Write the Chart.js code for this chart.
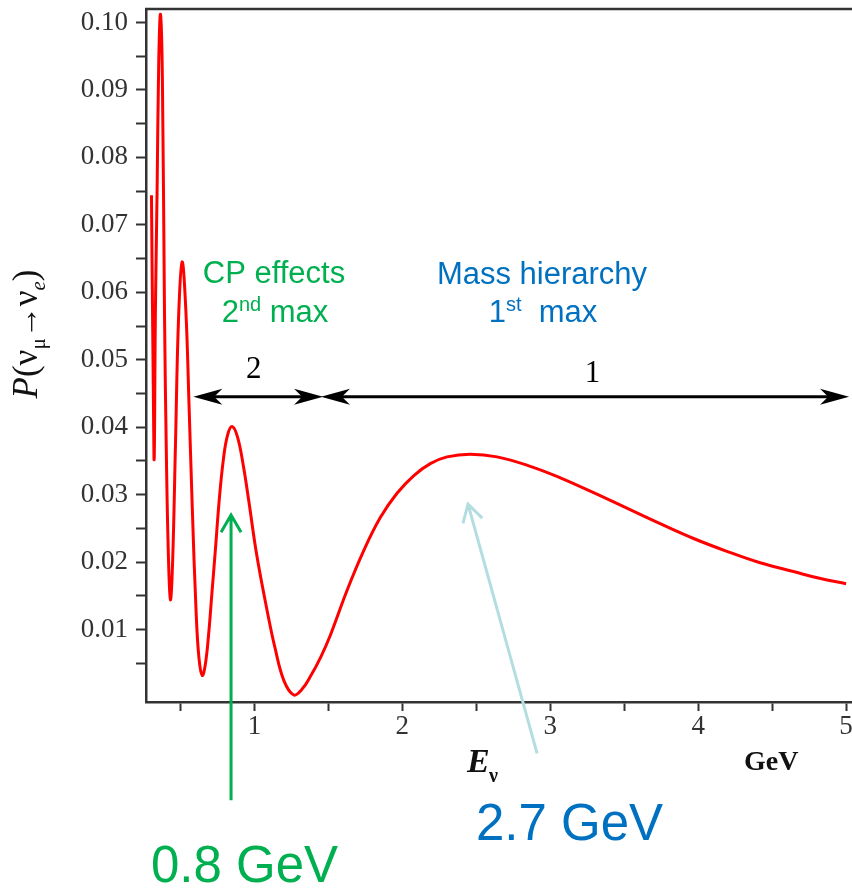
<!DOCTYPE html>
<html>
<head>
<meta charset="utf-8">
<script src="https://cdn.jsdelivr.net/npm/chart.js@4.4.0/dist/chart.umd.min.js"></script>
<style>
  html, body { margin: 0; padding: 0; background: #fff; }
  #wrap { width: 852px; height: 888px; }
</style>
</head>
<body>
<div id="wrap"><canvas id="osc" width="852" height="888"></canvas></div>
<script>
// neutrino energy (GeV) and appearance probability
const energy = [0.304, 0.321, 0.331, 0.342, 0.353, 0.365, 0.378, 0.392, 0.405, 0.418,
  0.432, 0.447, 0.466, 0.487, 0.511, 0.536, 0.558, 0.580, 0.606, 0.625,
  0.647, 0.668, 0.690, 0.712, 0.736, 0.762, 0.790, 0.818, 0.849, 0.885,
  0.925, 0.961, 1.016, 1.086, 1.140, 1.200, 1.266, 1.320, 1.380, 1.450, 1.514,
  1.626, 1.739, 1.851, 1.964, 2.076, 2.189, 2.302, 2.459, 2.640, 2.865,
  3.068, 3.293, 3.518, 3.743, 3.969, 4.194, 4.419, 4.644, 4.820, 5.000];
const prob = [0.0744, 0.0354, 0.0580, 0.0750, 0.0940, 0.1012, 0.0913, 0.0570, 0.0355, 0.0213,
  0.0144, 0.0201, 0.0372, 0.0561, 0.0645, 0.0575, 0.0433, 0.0280, 0.0125, 0.0058,
  0.0032, 0.0048, 0.0092, 0.0152, 0.0218, 0.0292, 0.0352, 0.0388, 0.0401, 0.0386,
  0.0343, 0.0292, 0.0210, 0.0128, 0.0072, 0.0024, 0.0003, 0.0011, 0.0031, 0.0060, 0.0092,
  0.0158, 0.0217, 0.0266, 0.0302, 0.0328, 0.0346, 0.0356, 0.0360, 0.0356, 0.0342,
  0.0325, 0.0303, 0.0280, 0.0257, 0.0235, 0.0216, 0.0199, 0.0186, 0.0176, 0.0168];

const xMin = 0.267, xMax = 5.04;
const yMin = -0.00074, yMax = 0.102;

const GREEN = '#00B050';
const BLUE = '#0070C0';
const AQUA = '#B4DDE2';
const AXIS = '#333';

function stealthHead(ctx, x, y, dir) {
  // dir = -1 points left, +1 points right
  const L = 29, h = 8;
  ctx.beginPath();
  ctx.moveTo(x, y);
  ctx.lineTo(x - dir * L, y - h);
  ctx.lineTo(x - dir * L * 0.72, y);
  ctx.lineTo(x - dir * L, y + h);
  ctx.closePath();
  ctx.fill();
}

function openArrow(ctx, x0, y0, x1, y1, color) {
  const a = Math.atan2(y1 - y0, x1 - x0), w = 20, sp = Math.PI / 6;
  ctx.strokeStyle = color;
  ctx.lineWidth = 3;
  ctx.beginPath();
  ctx.moveTo(x0, y0);
  ctx.lineTo(x1, y1);
  ctx.moveTo(x1 - w * Math.cos(a - sp), y1 - w * Math.sin(a - sp));
  ctx.lineTo(x1, y1);
  ctx.lineTo(x1 - w * Math.cos(a + sp), y1 - w * Math.sin(a + sp));
  ctx.stroke();
}

// text made of pieces (sub/superscripts), centred on cx
function supText(ctx, parts, cx, y, color) {
  let total = 0;
  parts.forEach(p => { ctx.font = p.font; total += ctx.measureText(p.t).width; });
  let x = cx - total / 2;
  ctx.fillStyle = color;
  ctx.textAlign = 'left';
  ctx.textBaseline = 'alphabetic';
  parts.forEach(p => {
    ctx.font = p.font;
    ctx.fillText(p.t, x, y + (p.dy || 0));
    x += ctx.measureText(p.t).width;
  });
}

const extras = {
  id: 'extras',
  afterDraw(chart) {
    const ctx = chart.ctx, xs = chart.scales.x, ys = chart.scales.y, area = chart.chartArea;
    const px = v => xs.getPixelForValue(v), py = v => ys.getPixelForValue(v);
    ctx.save();

    // top frame line
    ctx.strokeStyle = AXIS;
    ctx.lineWidth = 2.5;
    ctx.beginPath();
    ctx.moveTo(area.left - 1, area.top);
    ctx.lineTo(chart.width, area.top);
    ctx.stroke();

    // y-axis title P(nu_mu -> nu_e)
    ctx.translate(37, 334);
    ctx.rotate(-Math.PI / 2);
    const serif = '"Liberation Serif", "DejaVu Serif", serif';
    supText(ctx, [
      { t: 'P', font: 'italic 35px ' + serif },
      { t: '(', font: '35px ' + serif },
      { t: 'ν', font: '35px ' + serif },
      { t: 'μ', font: '21px ' + serif, dy: 8 },
      { t: '→', font: '32px ' + serif },
      { t: 'ν', font: '35px ' + serif },
      { t: 'e', font: 'italic 21px ' + serif, dy: 8 },
      { t: ')', font: '35px ' + serif }
    ], 0, 0, '#111');
    ctx.setTransform(1, 0, 0, 1, 0, 0);

    // double arrows for regions 2 and 1
    const ay = py(0.0445);
    ctx.strokeStyle = '#000';
    ctx.fillStyle = '#000';
    ctx.lineWidth = 3;
    [[0.587, 1.464], [1.450, 5.02]].forEach(([a, b]) => {
      const xa = px(a), xb = px(b);
      ctx.beginPath();
      ctx.moveTo(xa + 10, ay);
      ctx.lineTo(xb - 10, ay);
      ctx.stroke();
      stealthHead(ctx, xa, ay, -1);
      stealthHead(ctx, xb, ay, 1);
    });
    ctx.font = '31px ' + serif;
    ctx.textAlign = 'center';
    ctx.textBaseline = 'alphabetic';
    ctx.fillStyle = '#000';
    ctx.fillText('2', px(0.995), 378);
    ctx.fillText('1', px(3.285), 382);

    // region captions
    const sans = '"Liberation Sans", Arial, sans-serif';
    ctx.font = '31px ' + sans;
    ctx.fillStyle = GREEN;
    ctx.fillText('CP effects', 274, 283);
    supText(ctx, [
      { t: '2', font: '31px ' + sans },
      { t: 'nd', font: '20px ' + sans, dy: -11 },
      { t: ' max', font: '31px ' + sans }
    ], 275, 322, GREEN);
    ctx.font = '31px ' + sans;
    ctx.textAlign = 'center';
    ctx.fillStyle = BLUE;
    ctx.fillText('Mass hierarchy', 542, 284);
    supText(ctx, [
      { t: '1', font: '31px ' + sans },
      { t: 'st', font: '20px ' + sans, dy: -11 },
      { t: '  max', font: '31px ' + sans }
    ], 543, 322, BLUE);

    // pointer arrows to the two maxima
    openArrow(ctx, px(0.842), py(-0.0153), px(0.842), py(0.0270), GREEN);
    openArrow(ctx, px(2.911), py(-0.00835), px(2.444), py(0.0286), AQUA);

    // axis name and unit
    ctx.fillStyle = '#111';
    ctx.textAlign = 'left';
    ctx.font = 'bold italic 34px ' + serif;
    ctx.fillText('E', 467, 772);
    ctx.font = 'bold 20px ' + serif;
    ctx.fillText('ν', 489, 782);
    ctx.font = 'bold 28px ' + serif;
    ctx.fillText('GeV', 744, 770);

    // energy callouts
    ctx.font = '51px ' + sans;
    ctx.fillStyle = GREEN;
    ctx.fillText('0.8 GeV', 151, 882);
    ctx.fillStyle = BLUE;
    ctx.fillText('2.7 GeV', 476, 840);

    ctx.restore();
  }
};

new Chart(document.getElementById('osc'), {
  type: 'line',
  data: {
    datasets: [{
      data: energy.map((e, i) => ({ x: e, y: prob[i] })),
      borderColor: '#FF0000',
      borderWidth: 3,
      pointRadius: 0,
      fill: false,
      tension: 0.4
    }]
  },
  options: {
    responsive: false,
    animation: false,
    layout: { padding: { top: 9, right: 0, bottom: 0, left: 0 } },
    plugins: { legend: { display: false }, tooltip: { enabled: false } },
    scales: {
      x: {
        type: 'linear',
        min: xMin,
        max: xMax,
        afterFit: s => { s.height = 186; s.paddingLeft = 0; s.paddingRight = 0; },
        border: { color: AXIS, width: 2.5 },
        grid: { drawOnChartArea: false, tickLength: 9, tickColor: AXIS, tickWidth: 2 },
        ticks: {
          stepSize: 0.5,
          includeBounds: false,
          autoSkip: false,
          maxRotation: 0,
          padding: 0,
          color: '#333',
          font: { family: '"Liberation Serif", serif', size: 27 },
          callback: v => Math.abs(v - Math.round(v)) < 1e-6 ? String(Math.round(v)) : ''
        }
      },
      y: {
        min: yMin,
        max: yMax,
        afterFit: s => { s.width = 146; s.paddingTop = 0; s.paddingBottom = 0; },
        border: { color: AXIS, width: 2.5 },
        grid: {
          drawOnChartArea: false,
          tickLength: 10,
          tickWidth: 2,
          tickColor: c => Math.abs(c.tick.value) < 1e-9 ? 'rgba(0,0,0,0)' : AXIS
        },
        ticks: {
          stepSize: 0.005,
          includeBounds: false,
          autoSkip: false,
          padding: 8,
          color: '#333',
          font: { family: '"Liberation Serif", serif', size: 27 },
          callback: v => {
            const k = Math.round(v * 1000);
            return (k > 0 && k % 10 === 0) ? (k / 1000).toFixed(2) : '';
          }
        }
      }
    }
  },
  plugins: [extras]
});
</script>
</body>
</html>
